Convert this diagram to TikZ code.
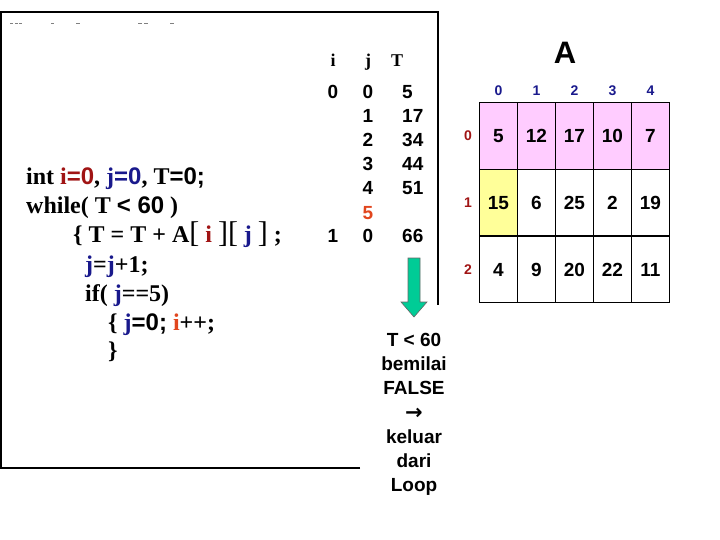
\documentclass[tikz,border=0pt]{standalone}
\usepackage{fontspec}
\setmainfont{Liberation Serif}
\newfontfamily\arialfont{Liberation Sans}
\newfontfamily\symbfont{DejaVu Sans}
\usetikzlibrary{matrix, positioning}

\definecolor{idxred}{RGB}{160,20,20}
\definecolor{idxblue}{RGB}{25,25,140}
\definecolor{incred}{RGB}{225,70,30}
\definecolor{rowpink}{RGB}{255,204,255}
\definecolor{cellyellow}{RGB}{255,255,153}
\definecolor{arrowgreen}{RGB}{0,204,150}

\newcommand{\vari}{\textcolor{idxred}{i}}
\newcommand{\varj}{\textcolor{idxblue}{j}}
\newcommand{\sz}[1]{{\arialfont #1}}
\newcommand{\bigbr}[1]{{\fontsize{30}{30}\selectfont\mdseries #1}}

\tikzset{
  codeline/.style={anchor=base west, inner sep=0pt, font=\bfseries\fontsize{24}{24}\selectfont},
  headtxt/.style={anchor=base, inner sep=0pt, font=\bfseries\fontsize{18}{18}\selectfont},
  tval/.style={anchor=base, inner sep=0pt, font=\arialfont\bfseries\fontsize{19}{19}\selectfont},
  colidx/.style={inner sep=0pt, text=idxblue, font=\arialfont\bfseries\fontsize{14}{14}\selectfont},
  rowidx/.style={inner sep=0pt, text=idxred, font=\arialfont\bfseries\fontsize{14}{14}\selectfont},
  frameline/.style={draw=black, line width=1.3pt},
}

\begin{document}
\begin{tikzpicture}[x=1pt, y=-1pt]
\useasboundingbox (0,0) rectangle (720,540);

% frame of the slide
\draw[frameline] (360,468) -- (1,468) -- (1,12) -- (438,12) -- (438,305);
\foreach \xa/\xb in {10/13, 15/18, 19/22, 51/54, 76/80, 138/142, 144/148, 170/174}
  \draw[gray, line width=0.8pt] (\xa,23) -- (\xb,23);

% program
\node[codeline] (code1) at (26,185) {int \textcolor{idxred}{i\sz{=0}}, \textcolor{idxblue}{j\sz{=0}}, T\sz{=0;}};
\node[codeline] (code2) at (26,214) {while( T \sz{< 60} )};
\node[codeline] (code3) at (73,243) {\{ T = T + A\bigbr{[} \vari\ \bigbr{]}\bigbr{[} \varj\ \bigbr{]} ;};
\node[codeline] (code4) at (85,272) {\varj=\varj+1;};
\node[codeline] (code5) at (85,301) {if( \varj==5)};
\node[codeline] (code6) at (108,330) {\{ \varj\sz{=0;} \textcolor{incred}{i}++;};
\node[codeline] (code7) at (108,358) {\}};

% trace of i, j, T
\node[headtxt] (hi) at (333,67) {i};
\node[headtxt] (hj) at (368,67) {j};
\node[headtxt] (hT) at (397,67) {T};
\node[tval] (ti0) at (333,99) {0};
\node[tval] (ti1) at (333,243) {1};
\foreach \n/\yy/\jv/\tv in {1/99/0/5, 2/123/1/17, 3/147/2/34, 4/171/3/44, 5/195/4/51, 7/243/0/66}{
  \node[tval] (tj\n) at (368,\yy) {\jv};
  \node[tval, anchor=base west] (tT\n) at (402,\yy) {\tv};
}
\node[tval, text=incred] (tj6) at (368,219) {5};

% arrow and conclusion
\draw[draw=black!60, fill=arrowgreen, line width=0.6pt]
  (408,258) -- (420,258) -- (420,302) -- (427,302) -- (414,317) -- (401,302) -- (408,302) -- cycle;
\node[tval, anchor=north, align=center, font=\arialfont\bfseries\fontsize{19}{24.2}\selectfont] (result) at (414,333)
  {T < 60\\bemilai\\FALSE\\{\symbfont\bfseries\fontsize{21}{21}\selectfont →}\\keluar\\dari\\Loop};

% array A
\node[inner sep=0pt, font=\arialfont\bfseries\fontsize{31}{31}\selectfont] (atitle) at (565,53) {A};
\matrix[matrix of nodes, anchor=north west, inner sep=0pt,
  nodes={draw, minimum width=37.6pt, minimum height=66.4pt, anchor=center, line width=0.8pt,
         text height=13.7pt, text depth=0pt,
         font=\arialfont\bfseries\fontsize{19}{19}\selectfont},
  row sep=-\pgflinewidth, column sep=-\pgflinewidth,
  row 1/.style={nodes={fill=rowpink}}] (gridA) at (479,102) {%
  5 & 12 & 17 & 10 & 7 \\
  |[fill=cellyellow]| 15 & 6 & 25 & 2 & 19 \\
  4 & 9 & 20 & 22 & 11 \\
};
\foreach \c [evaluate=\c as \cc using int(\c+1)] in {0,...,4}
  \node[colidx, above=6pt of gridA-1-\cc] (col\c) {\c};
\foreach \r [evaluate=\r as \rr using int(\r+1)] in {0,1,2}
  \node[rowidx, left=7pt of gridA-\rr-1] (row\r) {\r};
\end{tikzpicture}
\end{document}
